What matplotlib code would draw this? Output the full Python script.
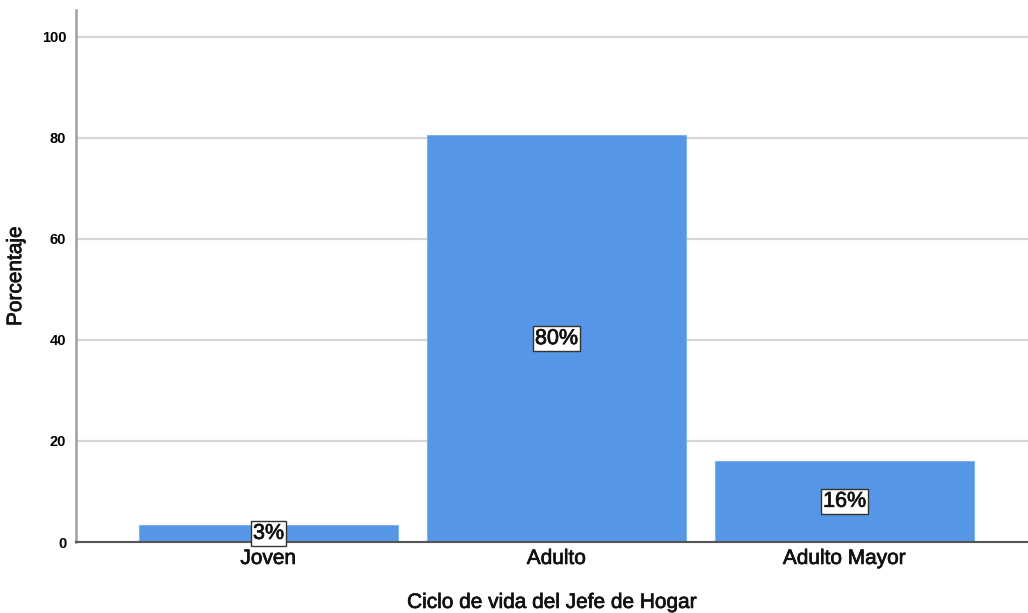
import matplotlib
matplotlib.use("Agg")
import matplotlib.pyplot as plt
import matplotlib.patheffects as pe

categories = ["Joven", "Adulto", "Adulto Mayor"]
values = [3.4, 80.5, 16.1]
labels = ["3%", "80%", "16%"]
yticks = [0, 20, 40, 60, 80, 100]

plt.rcParams['font.family'] = ['Liberation Sans', 'DejaVu Sans']

heavy = [pe.withStroke(linewidth=0.5, foreground="#111111")]

fig = plt.figure(figsize=(10.28, 6.13), dpi=100)
ax = fig.add_axes([76/1028, 71/613, 1 - 76/1028, 532/613])

x = list(range(len(categories)))
ax.bar(x, values, width=0.9, color="#5596e6", edgecolor="#7fb0ee", linewidth=0.8, zorder=3)

for xi, v, lab in zip(x, values, labels):
    ax.text(xi, v / 2, lab, ha="center", va="center", fontsize=15.5, color="#111111", zorder=5,
            path_effects=heavy,
            bbox=dict(boxstyle="square,pad=0.1", facecolor="white", edgecolor="#333333", linewidth=1.0))

ax.set_xlim(-0.668, 2.637)
ax.set_ylim(0, 105.3)
ax.set_yticks(yticks)
ax.set_yticklabels([str(t) for t in yticks], fontsize=10.5, fontweight="bold")
ax.set_xticks(x)
ax.set_xticklabels(categories, fontsize=15, color="#111111")
for t in ax.get_xticklabels():
    t.set_path_effects(heavy)
ax.tick_params(axis="both", length=0)
ax.tick_params(axis="y", pad=7)
ax.tick_params(axis="x", pad=5)

ax.yaxis.grid(True, color="#d6d6d6", linewidth=1.6, zorder=0)
ax.set_axisbelow(True)

for s in ["top", "right"]:
    ax.spines[s].set_visible(False)
ax.spines["left"].set_color("#a0a0a0")
ax.spines["left"].set_linewidth(1.8)
ax.spines["bottom"].set_color("#555555")
ax.spines["bottom"].set_linewidth(1.5)
ax.spines["bottom"].set_zorder(4)

ax.set_ylabel("Porcentaje", fontsize=15, labelpad=12, color="#111111", path_effects=heavy)
ax.set_xlabel("Ciclo de vida del Jefe de Hogar", fontsize=15, labelpad=18, color="#111111", path_effects=heavy)

fig.savefig("out.png", dpi=100)
